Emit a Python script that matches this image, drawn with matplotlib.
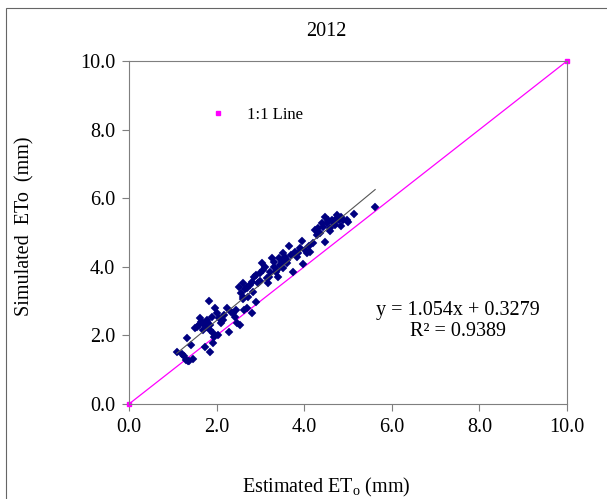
import numpy as np
import matplotlib
matplotlib.use("Agg")
import matplotlib.pyplot as plt
from matplotlib.lines import Line2D
from matplotlib.patches import Rectangle

plt.rcParams['font.family'] = ['Liberation Serif', 'DejaVu Serif']
plt.rcParams['mathtext.fontset'] = 'custom'
plt.rcParams['mathtext.rm'] = 'Liberation Serif'
plt.rcParams['mathtext.it'] = 'Liberation Serif:italic'

##Data (estimated vs simulated ETo, mm)
estimated = [1.09, 1.20, 1.30, 1.38, 1.45, 1.33, 1.41, 1.51, 1.62, 1.70,
             1.76, 1.79, 1.83, 1.84, 1.91, 1.96, 2.00, 1.89, 1.94, 1.74,
             1.84, 1.91, 2.04, 2.23, 2.17, 2.34, 2.29, 2.42, 2.46, 2.53,
             2.63, 2.60, 2.69, 2.80, 2.52, 2.61, 2.69, 2.76, 2.72, 2.84,
             2.90, 2.85, 2.95, 2.99, 3.07, 3.14, 3.18, 3.22, 3.26, 3.31,
             3.37, 3.41, 3.45, 3.49, 3.52, 3.56, 3.60, 3.66, 3.69, 3.74,
             3.79, 3.84, 3.90, 3.94, 3.97, 4.02, 4.07, 4.13, 4.19, 4.25,
             4.30, 4.36, 4.42, 4.47, 4.48, 4.53, 4.59, 4.63, 4.67, 4.70,
             4.74, 4.80, 4.83, 4.89, 4.97, 5.01, 5.14, 5.62, 2.90, 3.11,
             3.30, 3.43, 3.51, 4.32, 4.40, 4.55, 4.75, 3.03, 1.78, 1.85,
             2.05, 2.10, 2.38, 2.65, 2.55, 2.60, 2.70, 2.80, 1.25, 1.55,
             1.65, 1.35, 1.60, 1.70, 2.15, 2.45, 3.00, 3.20, 3.35, 3.60,
             3.85, 4.10, 4.60, 4.85]
simulated = [1.53, 1.46, 1.28, 1.26, 1.30, 1.91, 1.72, 2.21, 2.50, 2.35,
             2.25, 2.40, 3.00, 2.16, 2.06, 2.79, 2.64, 2.55, 1.96, 1.67,
             1.53, 1.77, 2.01, 2.79, 2.59, 2.69, 2.11, 2.55, 2.35, 2.30,
             2.74, 3.13, 2.79, 2.64, 3.42, 3.52, 3.37, 3.47, 3.13, 3.27,
             2.98, 3.71, 3.52, 3.81, 3.91, 3.66, 3.52, 3.86, 4.25, 4.00,
             3.91, 3.71, 4.05, 4.15, 3.96, 4.30, 4.20, 4.61, 4.34, 3.86,
             4.44, 4.30, 4.54, 4.75, 4.08, 4.49, 4.39, 4.44, 4.70, 5.07,
             4.93, 4.98, 5.17, 5.46, 4.73, 5.27, 5.12, 5.36, 5.27, 5.22,
             5.41, 5.36, 5.46, 5.36, 5.36, 5.32, 5.54, 5.73, 3.76, 4.00,
             4.15, 4.25, 4.39, 5.12, 5.27, 5.36, 5.51, 4.10, 2.45, 2.30,
             2.50, 2.35, 2.65, 3.35, 3.25, 3.05, 3.40, 3.55, 1.40, 2.25,
             2.40, 1.25, 2.30, 2.15, 2.45, 2.75, 3.60, 3.70, 3.85, 4.10,
             4.40, 4.60, 5.05, 5.20]

oneToOne = [0.0, 2.0, 10.0]
slope = 1.054
intercept = 0.3279
rSquared = 0.9389
ticks = [0, 2, 4, 6, 8, 10]

fig = plt.figure(figsize=(6.07, 4.99), dpi=100)
ax = fig.add_axes([129/607, 95/499, 438/607, 343/499])

#1:1 line
ax.plot(oneToOne, oneToOne, color='#FF00FF', lw=0.9, marker='s', ms=2.6,
        zorder=2, clip_on=False)

#Scatter
ax.plot(estimated, simulated, linestyle='none', marker='D', ms=4.2,
        color='#000080', mec='#000080', mew=0.3, zorder=3)

#Trendline over data range
xFit = np.array([min(estimated), max(estimated)])
ax.plot(xFit, slope*xFit + intercept, color='#555555', lw=0.8, zorder=4)

ax.set_xlim(0, 10)
ax.set_ylim(0, 10)
ax.set_xticks(ticks)
ax.set_yticks(ticks)
ax.set_xticklabels(['%.1f' % t for t in ticks])
ax.set_yticklabels(['%.1f' % t for t in ticks])
ax.tick_params(direction='out', length=5, width=0.8, color='#7f7f7f',
               labelsize=14.5, pad=5)
for s in ax.spines.values():
    s.set_color('#7f7f7f')
    s.set_linewidth(0.8)

ax.text(7.51, 2.72, 'y = %.3fx + %.4f' % (slope, intercept), ha='center',
        va='center', fontsize=14.5)
ax.text(7.51, 2.11, 'R² = %.4f' % rSquared, ha='center', va='center',
        fontsize=14.5)

handle = Line2D([], [], linestyle='none', marker='s', ms=2.6, color='#FF00FF')
ax.legend([handle], ['1:1 Line'], loc='center left',
          bbox_to_anchor=((210-129)/438, (404-115)/343), frameon=False,
          fontsize=12, handlelength=1.0, handletextpad=1.2, borderpad=0,
          borderaxespad=0)

fig.text(326/607, 1-31.5/499, '2012', ha='center', va='center', fontsize=14.5)
fig.text(326/607, 1-487/499, r'Estimated ET$_\mathrm{o}$ (mm)', ha='center',
         va='center', fontsize=14.5)
fig.text(25/607, 1-226/499, 'Simulated  ETo  (mm)', ha='center', va='center',
         rotation=90, fontsize=14.5)

#Chart border (only top and left visible)
fig.add_artist(Rectangle((5.5/607, -0.5), 2, 0.5 + (499-8.5)/499,
                         transform=fig.transFigure, fill=False,
                         edgecolor='#666666', lw=0.8))

fig.savefig('out.png', dpi=100)
